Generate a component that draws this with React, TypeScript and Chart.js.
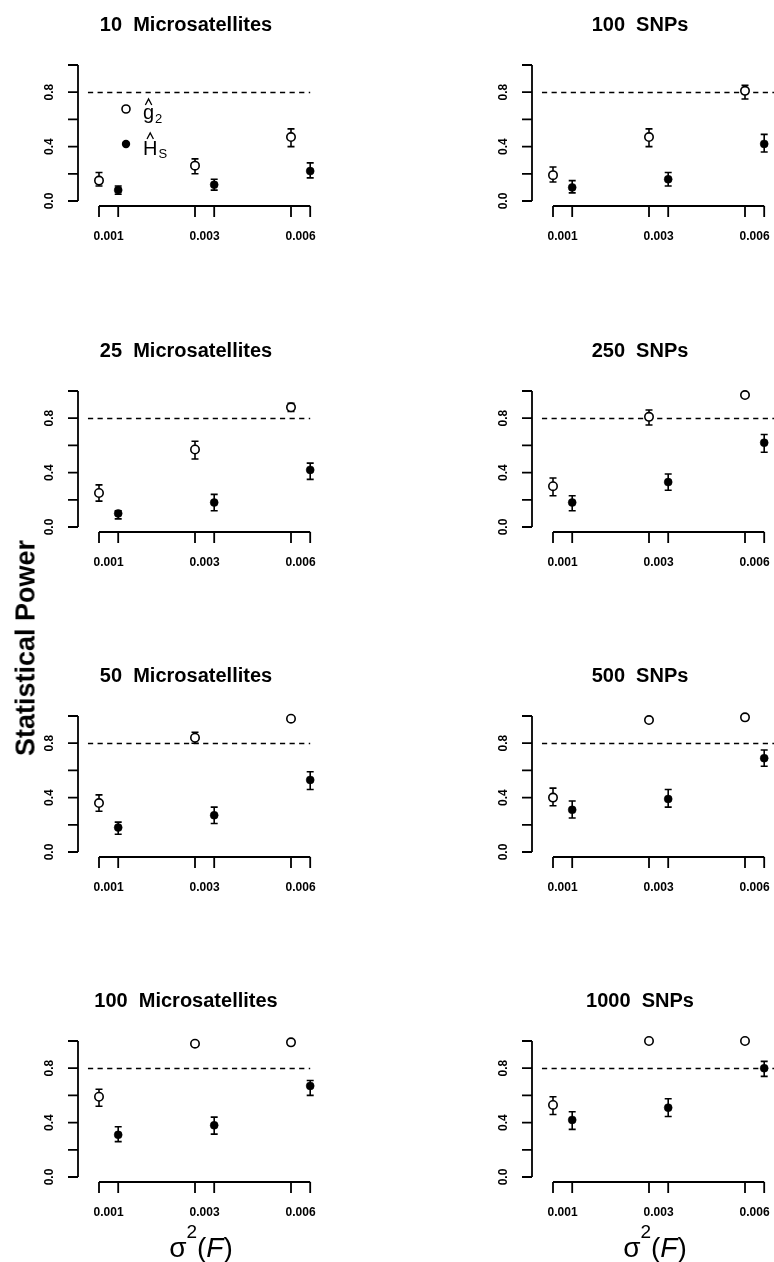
import React, { useEffect, useRef } from "react";
import { Chart, registerables } from "chart.js";

Chart.register(...registerables);

const FONT = '"Liberation Sans", Arial, Helvetica, sans-serif';

// ---------- axis / category data ----------
const sigmaLabels = ["0.001", "0.003", "0.006"];
const xPosG2 = [1, 2, 3];
const xPosHs = [1.2, 2.2, 3.2];
const yTickValues = [0, 0.2, 0.4, 0.6, 0.8, 1.0];
const yTickLabels = ["0.0", "", "0.4", "", "0.8", ""];
const targetPower = 0.8;

const panelTitles = [
  "10  Microsatellites",
  "100  SNPs",
  "25  Microsatellites",
  "250  SNPs",
  "50  Microsatellites",
  "500  SNPs",
  "100  Microsatellites",
  "1000  SNPs",
];

// ---------- series values (power, lower, upper) ----------
const msat10G2 = [0.15, 0.26, 0.47];
const msat10G2Lo = [0.11, 0.2, 0.4];
const msat10G2Hi = [0.21, 0.31, 0.53];
const msat10Hs = [0.08, 0.12, 0.22];
const msat10HsLo = [0.05, 0.08, 0.17];
const msat10HsHi = [0.11, 0.16, 0.28];

const snp100G2 = [0.19, 0.47, 0.81];
const snp100G2Lo = [0.14, 0.4, 0.75];
const snp100G2Hi = [0.25, 0.53, 0.85];
const snp100Hs = [0.1, 0.16, 0.42];
const snp100HsLo = [0.06, 0.11, 0.36];
const snp100HsHi = [0.15, 0.21, 0.49];

const msat25G2 = [0.25, 0.57, 0.88];
const msat25G2Lo = [0.19, 0.5, 0.85];
const msat25G2Hi = [0.31, 0.63, 0.91];
const msat25Hs = [0.1, 0.18, 0.42];
const msat25HsLo = [0.06, 0.12, 0.35];
const msat25HsHi = [0.12, 0.24, 0.47];

const snp250G2 = [0.3, 0.81, 0.97];
const snp250G2Lo = [0.23, 0.75, 0.96];
const snp250G2Hi = [0.36, 0.86, 0.98];
const snp250Hs = [0.18, 0.33, 0.62];
const snp250HsLo = [0.12, 0.27, 0.55];
const snp250HsHi = [0.23, 0.39, 0.68];

const msat50G2 = [0.36, 0.84, 0.98];
const msat50G2Lo = [0.3, 0.8, 0.97];
const msat50G2Hi = [0.42, 0.88, 0.99];
const msat50Hs = [0.18, 0.27, 0.53];
const msat50HsLo = [0.13, 0.21, 0.46];
const msat50HsHi = [0.22, 0.33, 0.59];

const snp500G2 = [0.4, 0.97, 0.99];
const snp500G2Lo = [0.34, 0.96, 0.985];
const snp500G2Hi = [0.47, 0.98, 0.995];
const snp500Hs = [0.31, 0.39, 0.69];
const snp500HsLo = [0.25, 0.33, 0.63];
const snp500HsHi = [0.375, 0.46, 0.75];

const msat100G2 = [0.59, 0.98, 0.99];
const msat100G2Lo = [0.52, 0.97, 0.985];
const msat100G2Hi = [0.645, 0.99, 0.995];
const msat100Hs = [0.31, 0.38, 0.67];
const msat100HsLo = [0.26, 0.315, 0.6];
const msat100HsHi = [0.37, 0.44, 0.71];

const snp1000G2 = [0.53, 1.0, 1.0];
const snp1000G2Lo = [0.46, 1.0, 1.0];
const snp1000G2Hi = [0.59, 1.0, 1.0];
const snp1000Hs = [0.42, 0.51, 0.8];
const snp1000HsLo = [0.35, 0.445, 0.74];
const snp1000HsHi = [0.48, 0.575, 0.85];

type PanelSpec = {
  title: string;
  g2: number[];
  g2Lo: number[];
  g2Hi: number[];
  hs: number[];
  hsLo: number[];
  hsHi: number[];
  col: number;
  row: number;
  legend?: boolean;
  xlabel?: boolean;
};

const panels: PanelSpec[] = [
  { title: panelTitles[0], g2: msat10G2, g2Lo: msat10G2Lo, g2Hi: msat10G2Hi, hs: msat10Hs, hsLo: msat10HsLo, hsHi: msat10HsHi, col: 0, row: 0, legend: true },
  { title: panelTitles[1], g2: snp100G2, g2Lo: snp100G2Lo, g2Hi: snp100G2Hi, hs: snp100Hs, hsLo: snp100HsLo, hsHi: snp100HsHi, col: 1, row: 0 },
  { title: panelTitles[2], g2: msat25G2, g2Lo: msat25G2Lo, g2Hi: msat25G2Hi, hs: msat25Hs, hsLo: msat25HsLo, hsHi: msat25HsHi, col: 0, row: 1 },
  { title: panelTitles[3], g2: snp250G2, g2Lo: snp250G2Lo, g2Hi: snp250G2Hi, hs: snp250Hs, hsLo: snp250HsLo, hsHi: snp250HsHi, col: 1, row: 1 },
  { title: panelTitles[4], g2: msat50G2, g2Lo: msat50G2Lo, g2Hi: msat50G2Hi, hs: msat50Hs, hsLo: msat50HsLo, hsHi: msat50HsHi, col: 0, row: 2 },
  { title: panelTitles[5], g2: snp500G2, g2Lo: snp500G2Lo, g2Hi: snp500G2Hi, hs: snp500Hs, hsLo: snp500HsLo, hsHi: snp500HsHi, col: 1, row: 2 },
  { title: panelTitles[6], g2: msat100G2, g2Lo: msat100G2Lo, g2Hi: msat100G2Hi, hs: msat100Hs, hsLo: msat100HsLo, hsHi: msat100HsHi, col: 0, row: 3, xlabel: true },
  { title: panelTitles[7], g2: snp1000G2, g2Lo: snp1000G2Lo, g2Hi: snp1000G2Hi, hs: snp1000Hs, hsLo: snp1000HsLo, hsHi: snp1000HsHi, col: 1, row: 3, xlabel: true },
];

// ---------- layout ----------
const PAGE_W = 774;
const PAGE_H = 1262;
const CANVAS_W = 320;
const COL_LEFT = [0, 454];
const ROW_TOP = [0, 326, 651, 976];
const PLOT_TOP = 65;
const PLOT_BOTTOM = 201;
const PLOT_LEFT = 99;
const PLOT_RIGHT = 310.2;

function drawHat(ctx: CanvasRenderingContext2D, cx: number, yTop: number) {
  ctx.beginPath();
  ctx.moveTo(cx - 3.2, yTop + 6);
  ctx.lineTo(cx, yTop);
  ctx.lineTo(cx + 3.2, yTop + 6);
  ctx.lineWidth = 1.3;
  ctx.stroke();
}

function makePlugin(p: PanelSpec) {
  return {
    id: "rPanel",
    beforeDatasetsDraw(chart: any) {
      const ctx: CanvasRenderingContext2D = chart.ctx;
      const xs = chart.scales.x;
      const ys = chart.scales.y;
      ctx.save();
      ctx.strokeStyle = "#000";
      // dashed target-power line
      ctx.lineWidth = 1.3;
      ctx.setLineDash([5.2, 4.4]);
      const yRef = Math.round(ys.getPixelForValue(targetPower)) + 0.5;
      ctx.beginPath();
      ctx.moveTo(xs.getPixelForValue(0.885), yRef);
      ctx.lineTo(p.col === 1 ? chart.width : xs.getPixelForValue(3.2), yRef);
      ctx.stroke();
      ctx.setLineDash([]);
      // error bars
      ctx.lineWidth = 1.6;
      const bar = (xv: number, lo: number, hi: number) => {
        const px = xs.getPixelForValue(xv);
        const pl = ys.getPixelForValue(lo);
        const ph = ys.getPixelForValue(hi);
        ctx.beginPath();
        ctx.moveTo(px, pl);
        ctx.lineTo(px, ph);
        ctx.moveTo(px - 3.5, pl);
        ctx.lineTo(px + 3.5, pl);
        ctx.moveTo(px - 3.5, ph);
        ctx.lineTo(px + 3.5, ph);
        ctx.stroke();
      };
      for (let i = 0; i < 3; i++) {
        bar(xPosG2[i], p.g2Lo[i], p.g2Hi[i]);
        bar(xPosHs[i], p.hsLo[i], p.hsHi[i]);
      }
      ctx.restore();
    },
    afterDraw(chart: any) {
      const ctx: CanvasRenderingContext2D = chart.ctx;
      const xs = chart.scales.x;
      const ys = chart.scales.y;
      ctx.save();
      ctx.strokeStyle = "#000";
      ctx.fillStyle = "#000";
      ctx.lineWidth = 1.8;
      // y axis
      const axX = xs.getPixelForValue(1) - 21;
      ctx.beginPath();
      ctx.moveTo(axX, ys.getPixelForValue(0));
      ctx.lineTo(axX, ys.getPixelForValue(1));
      yTickValues.forEach((v) => {
        const py = ys.getPixelForValue(v);
        ctx.moveTo(axX, py);
        ctx.lineTo(axX - 10, py);
      });
      ctx.stroke();
      ctx.font = `bold 12px ${FONT}`;
      ctx.textAlign = "center";
      ctx.textBaseline = "middle";
      yTickValues.forEach((v, i) => {
        if (!yTickLabels[i]) return;
        ctx.save();
        ctx.translate(axX - 28, ys.getPixelForValue(v));
        ctx.rotate(-Math.PI / 2);
        ctx.fillText(yTickLabels[i], 0, 0);
        ctx.restore();
      });
      // x axis
      const axY = ys.getPixelForValue(0) + 5;
      ctx.beginPath();
      ctx.moveTo(xs.getPixelForValue(xPosG2[0]), axY);
      ctx.lineTo(xs.getPixelForValue(xPosHs[2]), axY);
      for (let i = 0; i < 3; i++) {
        [xPosG2[i], xPosHs[i]].forEach((xv) => {
          const px = xs.getPixelForValue(xv);
          ctx.moveTo(px, axY);
          ctx.lineTo(px, axY + 11);
        });
      }
      ctx.stroke();
      sigmaLabels.forEach((lab, i) => {
        const px = xs.getPixelForValue((xPosG2[i] + xPosHs[i]) / 2);
        ctx.fillText(lab, px, axY + 31);
      });
      // title
      ctx.font = `bold 20px ${FONT}`;
      ctx.fillText(p.title, 186, 25);

      // legend
      if (p.legend) {
        ctx.lineWidth = 1.6;
        ctx.beginPath();
        ctx.arc(126, 109, 4, 0, Math.PI * 2);
        ctx.fillStyle = "#fff";
        ctx.fill();
        ctx.stroke();
        ctx.fillStyle = "#000";
        ctx.beginPath();
        ctx.arc(126, 144, 4.2, 0, Math.PI * 2);
        ctx.fill();
        ctx.textAlign = "left";
        ctx.textBaseline = "alphabetic";
        ctx.font = `20px ${FONT}`;
        ctx.fillText("g", 143, 118.5);
        const gw = ctx.measureText("g").width;
        ctx.fillText("H", 143, 155);
        const hw = ctx.measureText("H").width;
        ctx.font = `13px ${FONT}`;
        ctx.fillText("2", 143 + gw + 1, 123);
        ctx.fillText("S", 143 + hw + 1, 158);
        ctx.strokeStyle = "#000";
        drawHat(ctx, 143 + gw / 2, 99);
        drawHat(ctx, 143 + hw / 2, 133);
      }

      // x-axis title sigma^2(F)
      if (p.xlabel) {
        ctx.textAlign = "left";
        ctx.textBaseline = "alphabetic";
        const base = 281;
        const parts: [string, string, number][] = [
          ["σ", `28px ${FONT}`, 0],
          ["2", `19px ${FONT}`, -19],
          ["(", `28px ${FONT}`, 0],
          ["F", `italic 28px ${FONT}`, 0],
          [")", `28px ${FONT}`, 0],
        ];
        let total = 0;
        parts.forEach(([t, f]) => {
          ctx.font = f;
          total += ctx.measureText(t).width;
        });
        let cx = 201 - total / 2;
        parts.forEach(([t, f, dy]) => {
          ctx.font = f;
          ctx.fillText(t, cx, base + dy);
          cx += ctx.measureText(t).width;
        });
      }
      ctx.restore();
    },
  };
}

function Panel({ spec }: { spec: PanelSpec }) {
  const ref = useRef<HTMLCanvasElement | null>(null);
  const height = spec.row === 3 ? PAGE_H - ROW_TOP[3] : 325;
  useEffect(() => {
    if (!ref.current) return;
    const chart = new Chart(ref.current, {
      type: "scatter",
      data: {
        datasets: [
          {
            data: xPosG2.map((x, i) => ({ x, y: spec.g2[i] })),
            pointRadius: 4.2,
            pointBorderWidth: 1.6,
            pointBackgroundColor: "#fff",
            pointBorderColor: "#000",
            clip: false as any,
          },
          {
            data: xPosHs.map((x, i) => ({ x, y: spec.hs[i] })),
            pointRadius: 4,
            pointBorderWidth: 0.5,
            pointBackgroundColor: "#000",
            pointBorderColor: "#000",
            clip: false as any,
          },
        ],
      },
      options: {
        animation: false,
        responsive: false,
        devicePixelRatio: 1,
        events: [],
        layout: {
          padding: {
            left: PLOT_LEFT,
            right: CANVAS_W - PLOT_RIGHT,
            top: PLOT_TOP,
            bottom: height - PLOT_BOTTOM,
          },
        },
        scales: {
          x: { type: "linear", min: 1, max: 3.2, display: false },
          y: { type: "linear", min: 0, max: 1, display: false },
        },
        plugins: {
          legend: { display: false },
          tooltip: { enabled: false },
          title: { display: false },
        },
      },
      plugins: [makePlugin(spec)],
    });
    return () => chart.destroy();
  }, [spec, height]);
  return (
    <canvas
      ref={ref}
      width={CANVAS_W}
      height={height}
      style={{
        position: "absolute",
        left: COL_LEFT[spec.col],
        top: ROW_TOP[spec.row],
        width: CANVAS_W,
        height,
        display: "block",
      }}
    />
  );
}

export default function App() {
  return (
    <div
      style={{
        position: "absolute",
        left: 0,
        top: 0,
        width: PAGE_W,
        height: PAGE_H,
        background: "#fff",
        overflow: "hidden",
      }}
    >
      {panels.map((p, i) => (
        <Panel key={i} spec={p} />
      ))}
      <div
        style={{
          position: "absolute",
          left: 26,
          top: 648,
          transform: "translate(-50%, -50%) rotate(-90deg)",
          whiteSpace: "nowrap",
          fontFamily: FONT,
          fontWeight: "bold",
          fontSize: 27,
          lineHeight: 1,
          color: "#000",
        }}
      >
        Statistical Power
      </div>
    </div>
  );
}
